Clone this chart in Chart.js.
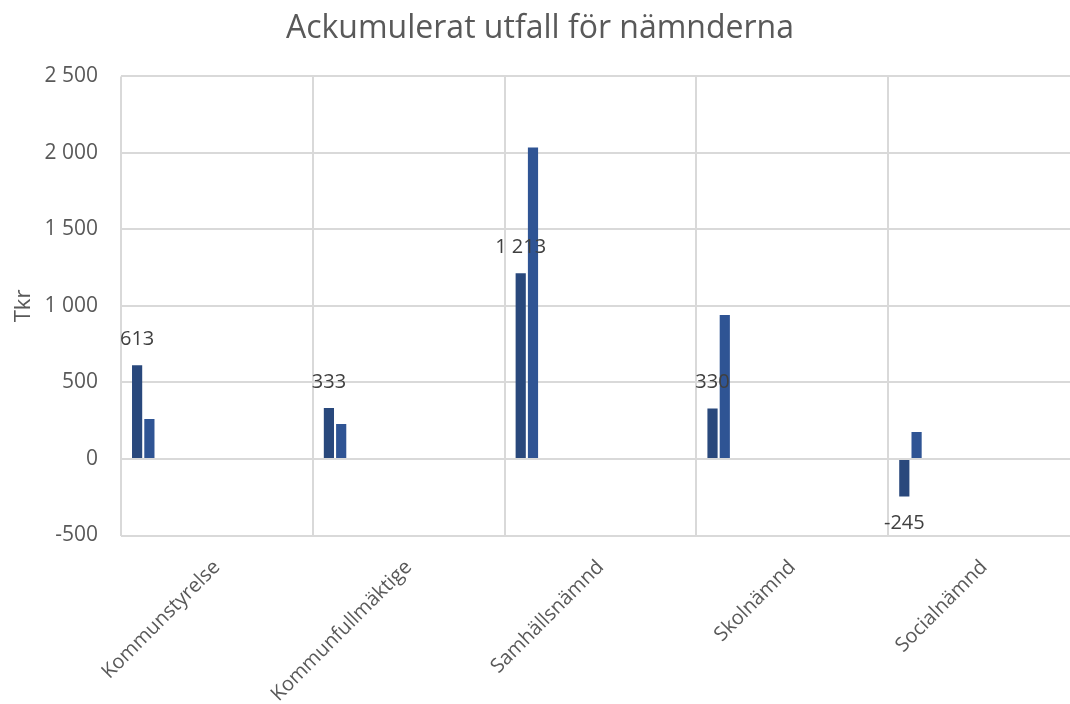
<!DOCTYPE html>
<html>
<head>
<meta charset="utf-8">
<script src="https://cdn.jsdelivr.net/npm/chart.js@4"></script>
<style>
  html, body { margin: 0; padding: 0; background: #fff; overflow: hidden; }
  #wrap { width: 1080px; height: 704px; }
</style>
</head>
<body>
<div id="wrap"><canvas id="chart"></canvas></div>
<script>
// ===== Data =====
const categories = ['Kommunstyrelse', 'Kommunfullmäktige', 'Samhällsnämnd', 'Skolnämnd', 'Socialnämnd'];
const utfall = [613, 333, 1213, 330, -245];
const prognos = [262, 229, 2035, 941, 176];
const yTicks = { min: -500, max: 2500, step: 500 };
const emptySlots = 12; // series without values in the workbook, they still take a slot per group

const fmt = v => String(v).replace(/\B(?=(\d{3})+(?!\d))/g, ' ');
const FONT = '"Open Sans", sans-serif';

// data labels above (or below) the first series
const valueLabels = {
  id: 'valueLabels',
  afterDatasetsDraw(chart) {
    const ctx = chart.ctx;
    const meta = chart.getDatasetMeta(0);
    ctx.save();
    ctx.font = '20px ' + FONT;
    ctx.fillStyle = '#404040';
    ctx.textAlign = 'center';
    ctx.textBaseline = 'middle';
    meta.data.forEach((bar, i) => {
      const v = utfall[i];
      const y = v >= 0 ? bar.y - 26 : bar.y + 27;
      ctx.fillText(fmt(v), bar.x, y);
    });
    ctx.restore();
  }
};

const datasets = [
  { data: utfall, backgroundColor: '#29487C' },
  { data: prognos, backgroundColor: '#2F5494' }
];
for (let i = 0; i < emptySlots; i++) datasets.push({ data: [] });

new Chart(document.getElementById('chart'), {
  type: 'bar',
  data: { labels: categories, datasets },
  options: {
    responsive: true,
    maintainAspectRatio: false,
    animation: false,
    categoryPercentage: 0.896,
    barPercentage: 0.83,
    layout: { padding: 0 },
    plugins: {
      legend: { display: false },
      tooltip: { enabled: false },
      title: {
        display: true,
        text: 'Ackumulerat utfall för nämnderna',
        color: '#595959',
        font: { family: FONT, size: 32, weight: 'normal' },
        padding: { top: 10, bottom: 28 }
      }
    },
    scales: {
      x: {
        grid: { color: '#d9d9d9', lineWidth: 2, drawTicks: false, offset: true },
        border: { display: false },
        ticks: {
          color: '#595959',
          font: { family: FONT, size: 20 },
          maxRotation: 45, minRotation: 45,
          padding: 20
        },
        afterFit(scale) { scale.height = 168.5; }
      },
      y: {
        min: yTicks.min, max: yTicks.max,
        grid: { color: '#d9d9d9', lineWidth: 2, drawTicks: false },
        border: { display: false },
        ticks: {
          stepSize: yTicks.step,
          color: '#595959',
          font: { family: FONT, size: 21 },
          padding: 23,
          callback: v => fmt(v)
        },
        title: {
          display: true,
          text: 'Tkr',
          color: '#595959',
          font: { family: FONT, size: 22 },
          padding: { top: 11 }
        },
        afterFit(scale) { scale.width = 121; }
      }
    }
  },
  plugins: [valueLabels]
});
</script>
</body>
</html>
